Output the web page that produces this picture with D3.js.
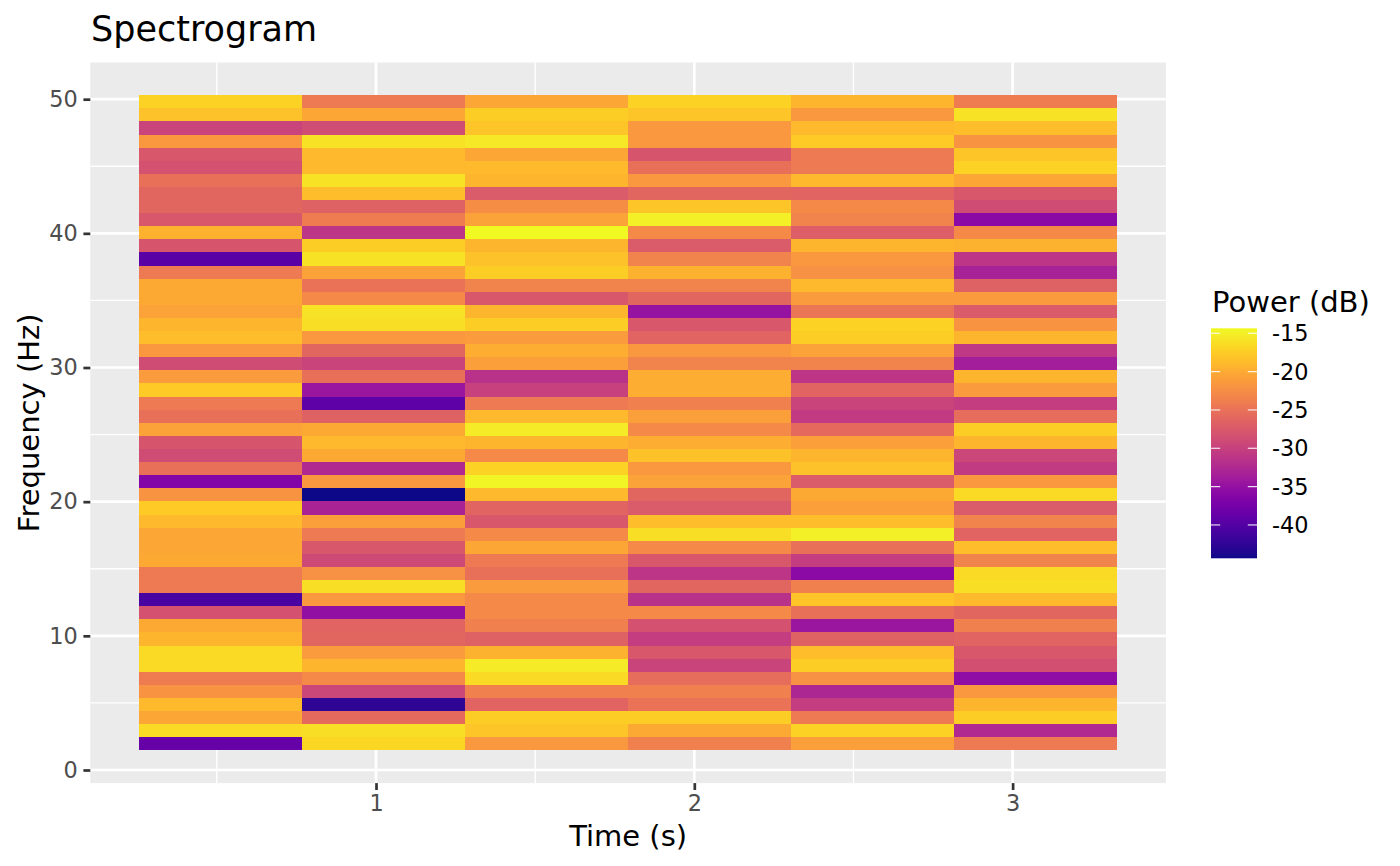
<!DOCTYPE html>
<html>
<head>
<meta charset="utf-8">
<script src="https://cdn.jsdelivr.net/npm/d3@7"></script>
<style>
  body { margin: 0; background: #fff; }
  svg text { font-family: "DejaVu Sans", sans-serif; }
</style>
</head>
<body>
<svg id="chart" width="1400" height="866"></svg>
<script>
// ---- data ----
const times = [0.512, 1.024, 1.536, 2.048, 2.560, 3.072];
const timeStep = 0.512;
const freqs = [1.953, 2.930, 3.906, 4.883, 5.859, 6.836, 7.813, 8.789, 9.766, 10.742,
  11.719, 12.695, 13.672, 14.648, 15.625, 16.602, 17.578, 18.555, 19.531, 20.508,
  21.484, 22.461, 23.438, 24.414, 25.391, 26.367, 27.344, 28.320, 29.297, 30.273,
  31.250, 32.227, 33.203, 34.180, 35.156, 36.133, 37.109, 38.086, 39.063, 40.039,
  41.016, 41.992, 42.969, 43.945, 44.922, 45.898, 46.875, 47.852, 48.828, 49.805];
const freqStep = 0.9765625;
// power (dB) per time column, low to high frequency
const power_t1 = [-38.7, -16.5, -20.4, -18.9, -21.9, -24.0, -16.5, -16.5, -19.2, -20.1,
  -28.2, -40.8, -24.3, -24.3, -20.1, -20.4, -20.4, -18.9, -17.7, -21.9,
  -36.3, -25.2, -28.8, -27.9, -20.7, -25.2, -24.3, -17.7, -21.3, -28.8,
  -21.6, -18.6, -19.2, -20.7, -20.1, -20.1, -24.3, -39.6, -27.9, -19.5,
  -27.6, -26.1, -26.1, -25.2, -28.2, -27.6, -21.6, -29.7, -18.3, -17.1];
const power_t2 = [-16.8, -16.2, -25.8, -42.6, -29.4, -22.8, -19.2, -21.3, -26.1, -26.4,
  -35.1, -21.6, -16.2, -22.2, -29.1, -27.6, -24.3, -21.0, -33.0, -44.35,
  -21.6, -32.4, -20.1, -18.9, -20.1, -26.7, -39.3, -34.5, -25.2, -29.7,
  -26.1, -21.6, -16.2, -15.9, -22.8, -24.9, -20.7, -15.9, -17.4, -31.2,
  -24.0, -26.7, -18.6, -15.9, -18.9, -18.9, -15.9, -28.8, -20.4, -24.3];
const power_t3 = [-21.6, -18.0, -17.4, -26.4, -23.7, -16.5, -15.3, -19.5, -26.7, -23.7,
  -22.8, -22.8, -21.3, -25.2, -24.3, -20.4, -22.8, -27.6, -26.4, -18.9,
  -14.7, -17.1, -22.8, -19.2, -15.3, -18.9, -24.3, -30.0, -31.5, -21.0,
  -19.8, -21.3, -17.4, -19.2, -27.6, -23.4, -17.4, -18.3, -19.2, -14.35,
  -20.7, -22.5, -27.3, -19.2, -18.9, -20.4, -15.6, -18.0, -17.4, -20.4];
const power_t4 = [-23.7, -20.1, -17.4, -24.9, -23.7, -25.5, -29.7, -27.6, -30.3, -28.2,
  -22.8, -31.5, -26.1, -31.2, -27.6, -22.8, -16.2, -18.6, -27.3, -26.1,
  -20.7, -21.6, -18.3, -19.8, -22.8, -21.0, -23.7, -19.8, -19.8, -23.4,
  -21.6, -26.4, -27.6, -34.8, -26.1, -23.4, -19.5, -23.4, -27.3, -22.8,
  -15.0, -18.0, -26.1, -21.6, -25.2, -27.9, -21.6, -21.6, -18.0, -17.1];
const power_t5 = [-21.0, -17.1, -24.3, -30.3, -32.7, -22.2, -17.4, -18.6, -26.7, -34.5,
  -25.2, -18.0, -23.7, -35.7, -30.3, -25.2, -15.0, -18.6, -21.0, -20.1,
  -27.3, -18.3, -19.2, -21.0, -25.8, -30.6, -29.7, -26.4, -31.2, -23.4,
  -20.7, -17.4, -17.1, -24.6, -21.3, -18.9, -22.2, -21.6, -19.2, -27.0,
  -23.4, -22.8, -26.4, -18.9, -24.3, -24.3, -17.7, -18.9, -21.6, -19.2];
const power_t6 = [-24.3, -32.4, -17.4, -19.2, -21.6, -35.4, -28.5, -27.6, -26.4, -23.7,
  -26.1, -18.9, -16.2, -16.5, -23.4, -18.6, -26.4, -23.4, -27.3, -16.5,
  -21.6, -30.6, -29.4, -19.2, -17.4, -25.5, -30.3, -21.3, -19.2, -33.6,
  -30.9, -19.2, -21.9, -27.3, -21.3, -26.7, -33.3, -31.2, -19.5, -22.8,
  -35.7, -28.8, -27.6, -20.4, -17.1, -18.0, -21.9, -18.6, -15.9, -24.0];
const powerColumns = [power_t1, power_t2, power_t3, power_t4, power_t5, power_t6];

const xTicks = [1, 2, 3];
const xMinor = [0.5, 1.5, 2.5];
const yTicks = [0, 10, 20, 30, 40, 50];
const yMinor = [5, 15, 25, 35, 45];
const legendTicks = [-15, -20, -25, -30, -35, -40];

// shared tile boundaries (midpoints between neighbouring bins) so tiles abut exactly
function edges(centers, step) {
  const e = [centers[0] - step / 2];
  for (let i = 1; i < centers.length; i++) e.push((centers[i - 1] + centers[i]) / 2);
  e.push(centers[centers.length - 1] + step / 2);
  return e;
}
const tEdges = edges(times, timeStep);
const fEdges = edges(freqs, freqStep);

// ---- build cells ----
const cells = [];
powerColumns.forEach((col, i) => {
  col.forEach((v, j) => cells.push({
    t0: tEdges[i], t1: tEdges[i + 1], f0: fEdges[j], f1: fEdges[j + 1], v: v
  }));
});

const svg = d3.select("#chart");
const panel = { left: 90.3, right: 1165.9, top: 62.5, bottom: 783.1 };

const tMin = tEdges[0], tMax = tEdges[tEdges.length - 1];
const fMin = fEdges[0], fMax = fEdges[fEdges.length - 1];
const tPad = (tMax - tMin) * 0.05, fPad = (fMax - fMin) * 0.05;

const x = d3.scaleLinear().domain([tMin - tPad, tMax + tPad]).range([panel.left, panel.right]);
const y = d3.scaleLinear().domain([fMin - fPad, fMax + fPad]).range([panel.bottom, panel.top]);

const vExtent = d3.extent(cells, d => d.v);
const color = d3.scaleSequential(d3.interpolatePlasma).domain(vExtent);

// panel background
svg.append("rect")
  .attr("x", panel.left).attr("y", panel.top)
  .attr("width", panel.right - panel.left).attr("height", panel.bottom - panel.top)
  .attr("fill", "#EBEBEB");

const grid = svg.append("g");
grid.selectAll(".xmin").data(xMinor).join("line")
  .attr("x1", d => x(d)).attr("x2", d => x(d))
  .attr("y1", panel.top).attr("y2", panel.bottom)
  .attr("stroke", "#fff").attr("stroke-width", 1.35);
grid.selectAll(".ymin").data(yMinor).join("line")
  .attr("y1", d => y(d)).attr("y2", d => y(d))
  .attr("x1", panel.left).attr("x2", panel.right)
  .attr("stroke", "#fff").attr("stroke-width", 1.35);
grid.selectAll(".xmaj").data(xTicks).join("line")
  .attr("x1", d => x(d)).attr("x2", d => x(d))
  .attr("y1", panel.top).attr("y2", panel.bottom)
  .attr("stroke", "#fff").attr("stroke-width", 2.7);
grid.selectAll(".ymaj").data(yTicks).join("line")
  .attr("y1", d => y(d)).attr("y2", d => y(d))
  .attr("x1", panel.left).attr("x2", panel.right)
  .attr("stroke", "#fff").attr("stroke-width", 2.7);

// tiles
const px0 = d => Math.round(x(d.t0)), px1 = d => Math.round(x(d.t1));
const py0 = d => Math.round(y(d.f1)), py1 = d => Math.round(y(d.f0));
svg.append("g").selectAll("rect").data(cells).join("rect")
  .attr("x", px0).attr("width", d => px1(d) - px0(d))
  .attr("y", py0).attr("height", d => py1(d) - py0(d))
  .attr("fill", d => color(d.v))
  .attr("shape-rendering", "crispEdges");

// axes
const xAxis = svg.append("g").attr("transform", `translate(0,${panel.bottom})`)
  .call(d3.axisBottom(x).tickValues(xTicks).tickFormat(d3.format("d")).tickSize(6.9).tickPadding(5.6));
const yAxis = svg.append("g").attr("transform", `translate(${panel.left},0)`)
  .call(d3.axisLeft(y).tickValues(yTicks).tickFormat(d3.format("d")).tickSize(6.9).tickPadding(5.6));
[xAxis, yAxis].forEach(a => {
  a.select(".domain").remove();
  a.selectAll(".tick line").attr("stroke", "#333333").attr("stroke-width", 2.7);
  a.selectAll(".tick text").attr("fill", "#4D4D4D")
    .style("font-family", "DejaVu Sans").style("font-size", "22.4px");
});

// titles
svg.append("text").attr("x", 91).attr("y", 41)
  .style("font-size", "35px").attr("fill", "#000").text("Spectrogram");
svg.append("text").attr("x", (panel.left + panel.right) / 2).attr("y", 846)
  .attr("text-anchor", "middle").style("font-size", "29px").attr("fill", "#000").text("Time (s)");
svg.append("text")
  .attr("transform", `translate(38.5,${(panel.top + panel.bottom) / 2}) rotate(-90)`)
  .attr("text-anchor", "middle").style("font-size", "29px").attr("fill", "#000").text("Frequency (Hz)");

// legend
const leg = { x: 1211, y0: 328.3, y1: 558.3, w: 46 };
const ly = d3.scaleLinear().domain(vExtent).range([leg.y1, leg.y0]);
const defs = svg.append("defs");
const grad = defs.append("linearGradient").attr("id", "plasmaGrad")
  .attr("x1", 0).attr("y1", 1).attr("x2", 0).attr("y2", 0);
d3.range(0, 1.0001, 0.02).forEach(s => {
  grad.append("stop").attr("offset", s).attr("stop-color", d3.interpolatePlasma(s));
});
svg.append("rect").attr("x", leg.x).attr("y", leg.y0)
  .attr("width", leg.w).attr("height", leg.y1 - leg.y0).attr("fill", "url(#plasmaGrad)");
const lt = svg.append("g");
lt.selectAll(".tl").data(legendTicks).join("line")
  .attr("x1", leg.x).attr("x2", leg.x + leg.w / 5)
  .attr("y1", d => ly(d)).attr("y2", d => ly(d))
  .attr("stroke", "#fff").attr("stroke-opacity", 0.85).attr("stroke-width", 1.2);
lt.selectAll(".tr").data(legendTicks).join("line")
  .attr("x1", leg.x + leg.w - leg.w / 5).attr("x2", leg.x + leg.w)
  .attr("y1", d => ly(d)).attr("y2", d => ly(d))
  .attr("stroke", "#fff").attr("stroke-opacity", 0.85).attr("stroke-width", 1.2);
lt.selectAll("text").data(legendTicks).join("text")
  .attr("x", 1272).attr("y", d => ly(d)).attr("dy", "0.36em")
  .style("font-size", "22.4px").attr("fill", "#000").text(d => d);
svg.append("text").attr("x", 1212).attr("y", 311.5)
  .style("font-size", "29px").attr("fill", "#000").text("Power (dB)");
</script>
</body>
</html>
